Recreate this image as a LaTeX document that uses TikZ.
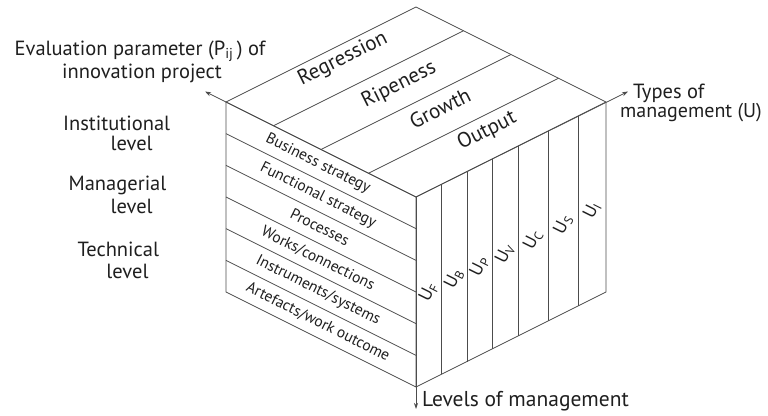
\documentclass[tikz,border=0pt]{standalone}
\usepackage{fontspec}
\setmainfont{PT Sans}
\usetikzlibrary{calc,arrows.meta}
\begin{document}
\begin{tikzpicture}[x=1pt,y=-1pt,
  edge/.style={draw=black!70, line width=0.75pt},
  axis/.style={edge, -{Stealth[length=6pt,width=4pt]}},
  big/.style={font=\fontsize{20.5}{22}\selectfont, text=black!88, inner sep=0pt},
  toplab/.style={font=\fontsize{21}{23}\selectfont, text=black!88, rotate=26.57, inner sep=0pt},
  leftlab/.style={font=\fontsize{15.5}{17}\selectfont, text=black!88, rotate=-26.57, inner sep=0pt},
  ulab/.style={font=\fontsize{18}{20}\selectfont, text=black!88, rotate=63.43, inner sep=0pt}]
\useasboundingbox (0,0) rectangle (768,415);

\coordinate (T) at (416,7);
\coordinate (L) at (226,102);
\coordinate (F) at (416,197);
\coordinate (R) at (606,102);
\coordinate (Lb) at (226,292);
\coordinate (Fb) at (416,387);
\coordinate (Rb) at (606,292);
\coordinate (pe) at (205,91.5);
\coordinate (te) at (628,91.5);
\coordinate (le) at (416,409);

% faces
\draw[edge] (T) -- (L) -- (F) -- (R) -- cycle;
\draw[edge] (L) -- (Lb) -- (Fb) -- (F);
\draw[edge] (Fb) -- (Rb) -- (R);

% top bands
\foreach \t in {0.25,0.5,0.75}
  \draw[edge] ($(L)!\t!(F)$) -- ($(T)!\t!(R)$);
% left bands
\foreach \t in {0.16667,0.33333,0.5,0.66667,0.83333}
  \draw[edge] ($(L)!\t!(Lb)$) -- ($(F)!\t!(Fb)$);
% right columns
\foreach \t in {0.132,0.268,0.400,0.537,0.695,0.853}
  \draw[edge] ($(F)!\t!(R)$) -- ($(Fb)!\t!(Rb)$);

% axes
\draw[axis] (F) -- (pe);
\draw[axis] (F) -- (te);
\draw[axis] (F) -- (le);

% axis labels
\node[big, anchor=base] (eval1) at (140,55) {Evaluation parameter (P\textsubscript{ij}\,) of};
\node[big, anchor=base] (eval2) at (142,78) {innovation project};
\node[big, anchor=base west] (types1) at (633,98) {Types of};
\node[big, font=\fontsize{20}{22}\selectfont, anchor=base west] (types2) at (620,117) {management (U)};
\node[big, font=\fontsize{21.5}{23}\selectfont, anchor=base west] (levels) at (422,406) {Levels of management};

% level labels
\node[big, anchor=base] (inst1) at (116.7,130) {Institutional};
\node[big, anchor=base] (inst2) at (131.7,150) {level};
\node[big, anchor=base] (man1) at (117.5,190) {Managerial};
\node[big, anchor=base] (man2) at (131.7,213) {level};
\node[big, anchor=base] (tech1) at (118.3,256.7) {Technical};
\node[big, anchor=base] (tech2) at (127.5,278.3) {level};

% top face labels
\node[toplab] (reg) at (343,59) {Regression};
\node[toplab] (rip) at (399,85) {Ripeness};
\node[toplab] (gro) at (440,108) {Growth};
\node[toplab] (out) at (487,131) {Output};

% left face labels
\node[leftlab] (bs) at (318,163.8) {Business strategy};
\node[leftlab] (fs) at (318,195.5) {Functional strategy};
\node[leftlab] (pr) at (320,227) {Processes};
\node[leftlab] (wc) at (318,258.8) {Works/connections};
\node[leftlab] (is) at (318,290.5) {Instruments/systems};
\node[leftlab] (aw) at (318,322) {Artefacts/work outcome};

% right face labels
\node[ulab] (uf) at ($(F)!0.066!(R)+(0,101)$) {U\textsubscript{F}};
\node[ulab] (ub) at ($(F)!0.200!(R)+(0,101)$) {U\textsubscript{B}};
\node[ulab] (up) at ($(F)!0.334!(R)+(0,101)$) {U\textsubscript{P}};
\node[ulab] (uv) at ($(F)!0.4685!(R)+(0,101)$) {U\textsubscript{V}};
\node[ulab] (uc) at ($(F)!0.616!(R)+(0,101)$) {U\textsubscript{C}};
\node[ulab] (us) at ($(F)!0.774!(R)+(0,101)$) {U\textsubscript{S}};
\node[ulab] (ui) at ($(F)!0.9265!(R)+(0,101)$) {U\textsubscript{I}};
\end{tikzpicture}
\end{document}
